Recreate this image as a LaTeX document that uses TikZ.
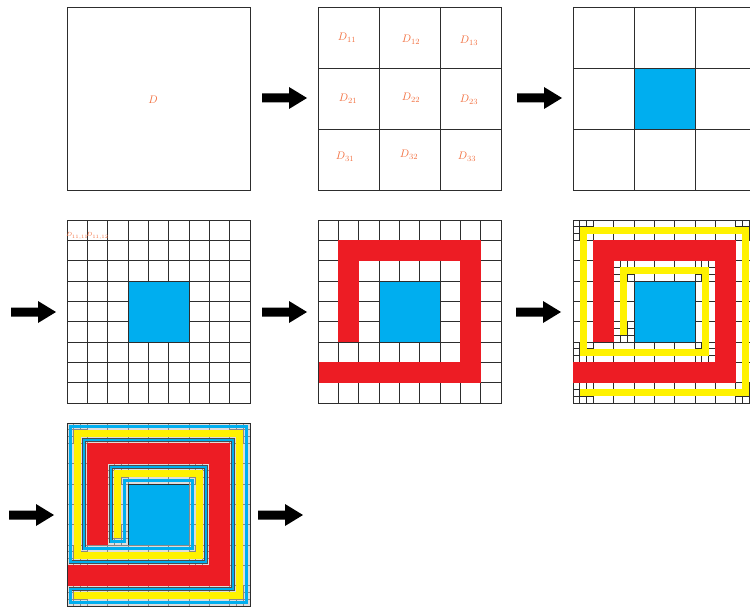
\documentclass[tikz,border=0pt]{standalone}
\usepackage{tikz}
\definecolor{cblue}{RGB}{0,174,239}
\definecolor{cred}{RGB}{237,28,36}
\definecolor{cyel}{RGB}{255,242,0}
\definecolor{clab}{RGB}{242,112,64}
\definecolor{cgrid}{RGB}{45,45,45}
\tikzset{
  gridln/.style={draw=cgrid, line width=0.75pt},
  subln/.style={draw=cgrid, line width=0.6pt},
  panelbox/.style={draw=cgrid, line width=0.75pt, minimum size=183pt, inner sep=0pt, outer sep=0pt},
  labtext/.style={text=clab, font=\fontsize{11}{13}\selectfont, inner sep=0pt},
  tinylab/.style={text=clab, font=\fontsize{6.3}{7}\selectfont, inner sep=0pt},
  bigarrow/.style={fill=black},
  redband/.style={fill=cred},
  yelband/.style={draw=cyel, line width=6.7778pt, line cap=rect, line join=miter},
  strip/.style={draw=gray!45, line width=6.7778pt, line join=miter},
  blueedge/.style={draw=black!70, line width=3.3pt, line join=miter},
  blueband/.style={draw=cblue, line width=2.2593pt, line join=miter},
}
\newcommand\mkarrow[2]{%
  \fill[bigarrow] (#1,#2-4.5) -- ++(27,0) -- ++(0,-6.5) -- ++(18,11) -- ++(-18,11) -- ++(0,-6.5) -- ++(-27,0) -- cycle;}
\newcommand\ninegrid{%
  \foreach \i in {0,...,9} {\draw[gridln] (\i,0) -- (\i,9); \draw[gridln] (0,\i) -- (9,\i);}}
\newcommand\cornersubs{%
  \foreach \cx/\cy in {2/5,2/2,6/2,6/6,0/6,0/0,8/0,8/8,0/8} {%
    \foreach \t in {0.3333,0.6667} {%
      \draw[subln] (\cx+\t,\cy) -- (\cx+\t,\cy+1);
      \draw[subln] (\cx,\cy+\t) -- (\cx+1,\cy+\t);}}}
\newcommand\redspiral{%
  \fill[redband] (1,1) rectangle (2,6);
  \fill[redband] (1,1) rectangle (8,2);
  \fill[redband] (7,1) rectangle (8,8);
  \fill[redband] (0,7) rectangle (8,8);}
\newcommand\bluesq{%
  \fill[cblue] (3,3) rectangle (6,6);
  \draw[gridln] (3,3) rectangle (6,6);}
\newcommand\yelpath{%
  \begin{scope}[x=6.7778pt,y=-6.7778pt]
  \draw[yelband] (7.5,16.5) -- (7.5,7.5) -- (19.5,7.5) -- (19.5,19.5) -- (1.5,19.5) -- (1.5,1.5) -- (25.5,1.5) -- (25.5,25.5) -- (1.5,25.5);
  \end{scope}}
\begin{document}
\begin{tikzpicture}[x=1pt,y=-1pt]
\useasboundingbox (0,0) rectangle (750,607);
% ---------- panel 1
\node[panelbox, anchor=north west] (p1) at (67,7) {};
\node[labtext] (d) at (153,100) {$D$};
% ---------- panel 2
\node[panelbox, anchor=north west] (p2) at (318,7) {};
\begin{scope}[shift={(318,7)}, x=61pt, y=-61pt]
  \foreach \i in {1,2} {\draw[gridln] (\i,0) -- (\i,3); \draw[gridln] (0,\i) -- (3,\i);}
\end{scope}
\node[labtext] (d11) at (347,38) {$D_{11}$};
\node[labtext] (d12) at (411,40) {$D_{12}$};
\node[labtext] (d13) at (469,41) {$D_{13}$};
\node[labtext] (d21) at (348,99) {$D_{21}$};
\node[labtext] (d22) at (411,98) {$D_{22}$};
\node[labtext] (d23) at (469,100) {$D_{23}$};
\node[labtext] (d31) at (345,157) {$D_{31}$};
\node[labtext] (d32) at (409,155) {$D_{32}$};
\node[labtext] (d33) at (467,157) {$D_{33}$};
% ---------- panel 3
\begin{scope}[shift={(573,7)}, x=61pt, y=-61pt]
  \fill[cblue] (1,1) rectangle (2,2);
  \foreach \i in {0,...,3} {\draw[gridln] (\i,0) -- (\i,3); \draw[gridln] (0,\i) -- (3,\i);}
\end{scope}
\node[panelbox, anchor=north west] (p3) at (573,7) {};
% ---------- panel 4
\begin{scope}[shift={(67,220)}, x=20.3333pt, y=-20.3333pt]
  \ninegrid
  \bluesq
\end{scope}
\node[panelbox, anchor=north west] (p4) at (67,220) {};
\node[tinylab] (d1111) at (77.2,236) {$D_{11,11}$};
\node[tinylab] (d1112) at (97.5,236) {$D_{11,12}$};
% ---------- panel 5
\begin{scope}[shift={(318,220)}, x=20.3333pt, y=-20.3333pt]
  \ninegrid
  \redspiral
  \bluesq
\end{scope}
\node[panelbox, anchor=north west] (p5) at (318,220) {};
% ---------- panel 6
\begin{scope}[shift={(573,220)}, x=20.3333pt, y=-20.3333pt]
  \ninegrid
  \cornersubs
  \redspiral
  \bluesq
\end{scope}
\begin{scope}[shift={(573,220)}]
  \yelpath
\end{scope}
% ---------- panel 7
\begin{scope}[shift={(67,423)}, x=20.3333pt, y=-20.3333pt]
  \ninegrid
  \cornersubs
  \redspiral
  \bluesq
\end{scope}
\begin{scope}[shift={(67,423)}]
  \yelpath
  \begin{scope}[x=2.2593pt,y=-2.2593pt]
    \draw[strip, opacity=0.6] (19.5,52.5) -- (19.5,19.5) -- (61.5,19.5) -- (61.5,61.5) -- (1.5,61.5) -- (1.5,1.5) -- (79.5,1.5) -- (79.5,79.5) -- (1.5,79.5) -- (1.5,73.5) -- (73.5,73.5) -- (73.5,7.5) -- (7.5,7.5) -- (7.5,55.5) -- (55.5,55.5) -- (55.5,25.5) -- (25.5,25.5) -- (25.5,52.5) -- cycle;
    \draw[blueedge] (19.5,52.5) -- (19.5,19.5) -- (61.5,19.5) -- (61.5,61.5) -- (1.5,61.5) -- (1.5,1.5) -- (79.5,1.5) -- (79.5,79.5) -- (1.5,79.5) -- (1.5,73.5) -- (73.5,73.5) -- (73.5,7.5) -- (7.5,7.5) -- (7.5,55.5) -- (55.5,55.5) -- (55.5,25.5) -- (25.5,25.5) -- (25.5,52.5) -- cycle;
    \draw[blueband] (19.5,52.5) -- (19.5,19.5) -- (61.5,19.5) -- (61.5,61.5) -- (1.5,61.5) -- (1.5,1.5) -- (79.5,1.5) -- (79.5,79.5) -- (1.5,79.5) -- (1.5,73.5) -- (73.5,73.5) -- (73.5,7.5) -- (7.5,7.5) -- (7.5,55.5) -- (55.5,55.5) -- (55.5,25.5) -- (25.5,25.5) -- (25.5,52.5) -- cycle;
  \end{scope}
\end{scope}
\node[panelbox, anchor=north west] (p7) at (67,423) {};
% ---------- arrows
\mkarrow{262}{98}
\mkarrow{517}{98}
\mkarrow{11}{312}
\mkarrow{262}{312}
\mkarrow{516}{312}
\mkarrow{9}{515}
\mkarrow{258}{515}
\end{tikzpicture}
\end{document}
